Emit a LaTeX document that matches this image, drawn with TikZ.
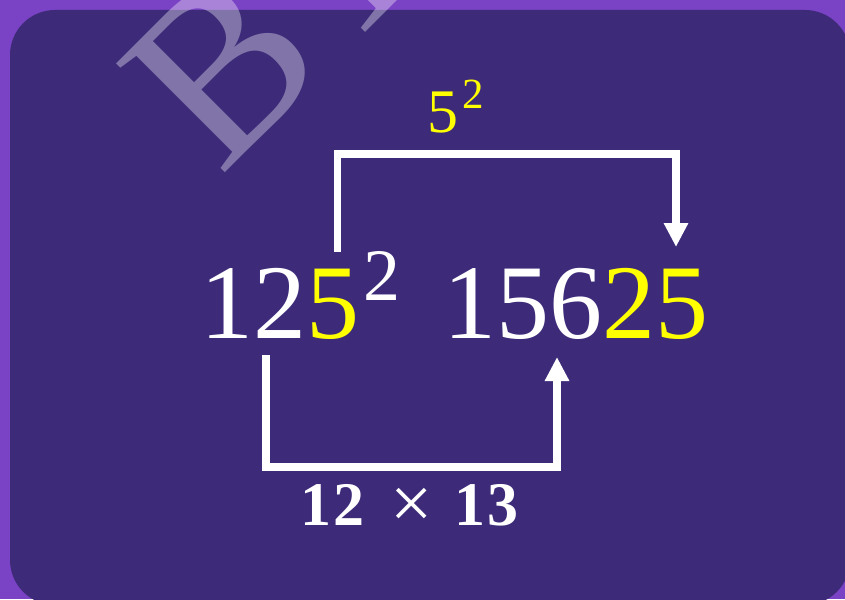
\documentclass[tikz,border=0pt]{standalone}
\usepackage{fontspec}
\setmainfont{Liberation Serif}
\usetikzlibrary{arrows.meta}
\definecolor{outerbg}{RGB}{122,66,196}
\definecolor{innerbg}{RGB}{61,43,122}
\definecolor{hl}{RGB}{255,255,0}
\begin{document}
\begin{tikzpicture}[x=1pt,y=-1pt,
  bracket/.style={draw=white,line width=7.5pt,line join=miter,-{Triangle[width=23pt,length=24pt]}},
  bignum/.style={inner sep=0pt,anchor=base west,text=white,font=\fontsize{106}{120}\selectfont},
  lbl/.style={inner sep=0pt,anchor=base west}]
\useasboundingbox (0,0) rectangle (845,599);
\clip (0,0) rectangle (845,599);
\fill[outerbg] (0,0) rectangle (845,599);
\fill[innerbg,rounded corners=45pt] (10,10) rectangle (850,605);

\node[bignum] (lhs) at (200,338) {12\textcolor{hl}{5}\hspace{4pt}\raisebox{38pt}{\fontsize{74}{80}\selectfont 2}};
\node[bignum] (rhs) at (443,338) {156\textcolor{hl}{25}};

\coordinate (t1) at (337.5,252);
\coordinate (t2) at (676,247);
\coordinate (b1) at (266,355);
\coordinate (b2) at (557,357);
\draw[bracket] (t1) -- ++(0,-98) -| (t2);
\draw[bracket] (b1) -- ++(0,112) -| (b2);

\node[lbl,text=hl,font=\fontsize{62}{70}\selectfont] (sq) at (427,132) {5\hspace{4pt}\raisebox{24pt}{\fontsize{43}{48}\selectfont 2}};
\node[lbl,text=white,font=\bfseries\fontsize{62}{70}\selectfont] (prod) at (300,525) {1\hspace{2pt}2\hspace{26pt}\raisebox{-3pt}{\mdseries\fontsize{75}{80}\selectfont ×}\hspace{22pt}1\hspace{2pt}3};

\node[lbl,rotate=45,text=white,opacity=0.35,font=\fontsize{235}{250}\selectfont] (wm) at (220,178) {BYJU'S};
\end{tikzpicture}
\end{document}
